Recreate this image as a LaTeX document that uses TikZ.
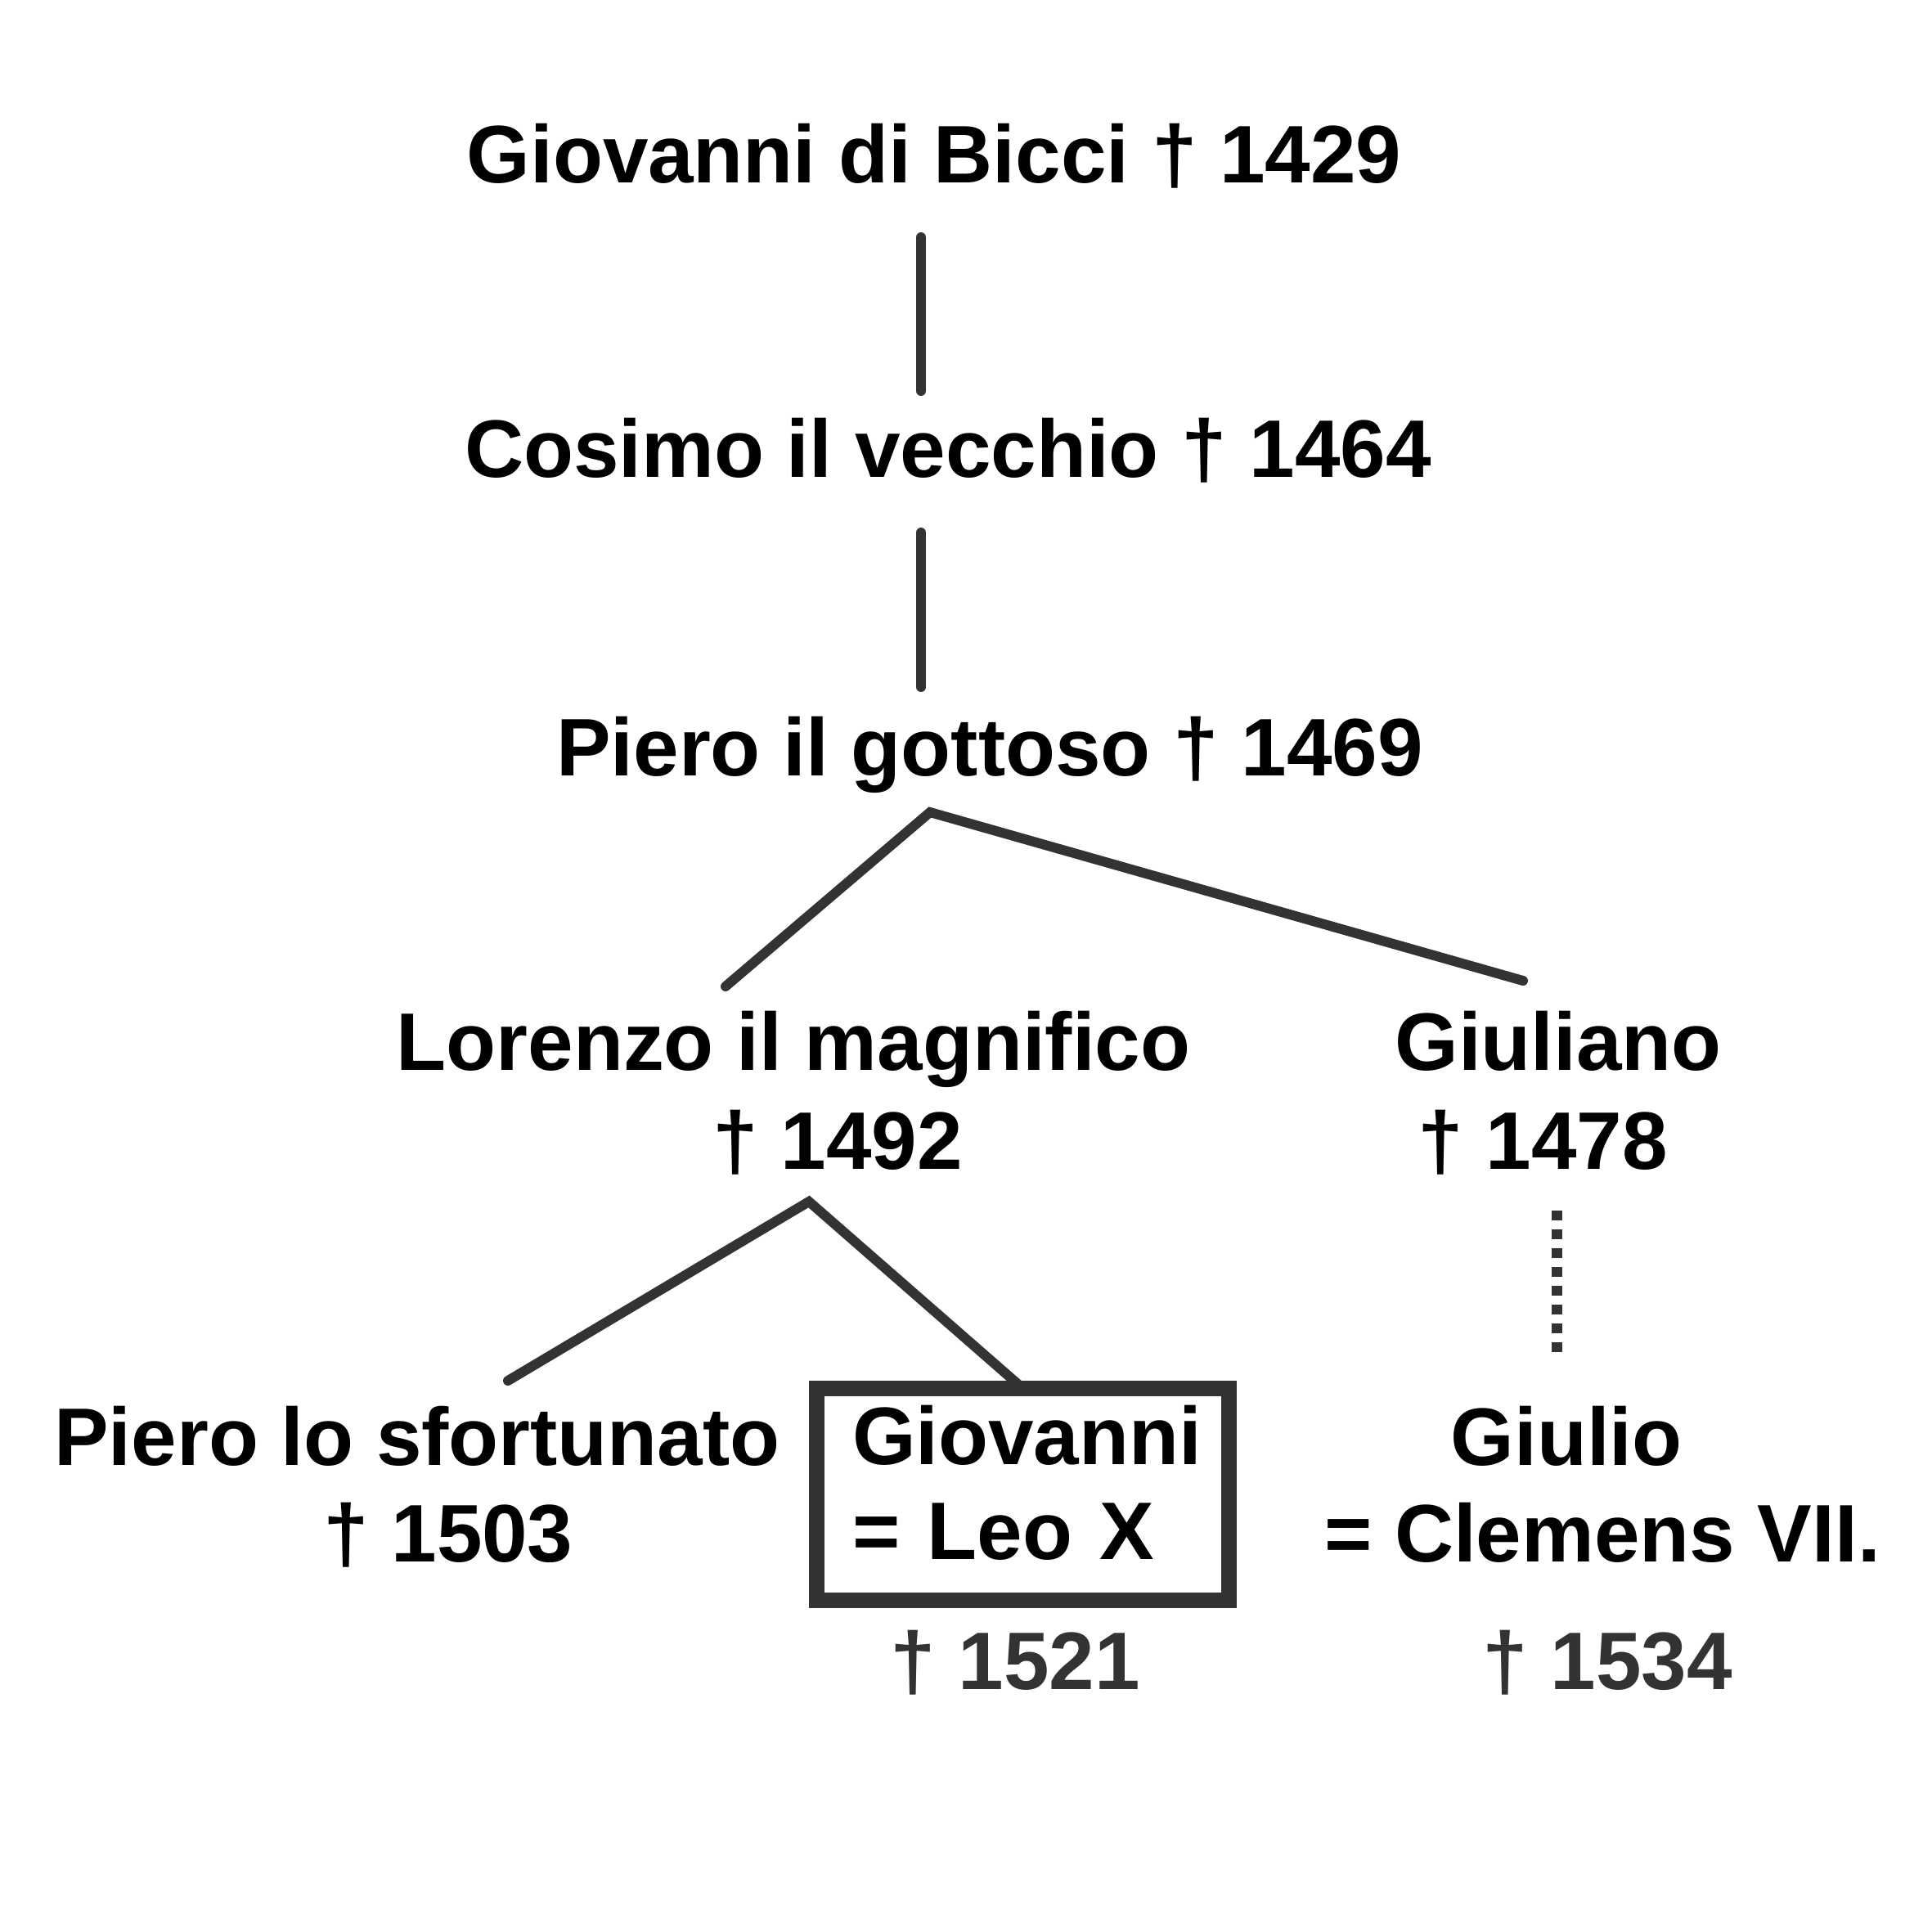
\documentclass[tikz,border=0pt]{standalone}
\usepackage{fontspec}
\setmainfont{Liberation Sans}
\usetikzlibrary{calc}
\definecolor{linegray}{HTML}{333333}
\newcommand{\famfont}{\fontsize{28.4}{33}\selectfont\bfseries}

\begin{document}
\begin{tikzpicture}[person/.style={anchor=base,inner sep=0pt,font=\famfont},
  dead/.style={person,text=linegray},
  link/.style={draw=linegray,line width=3.4pt,line cap=round},
  cousin/.style={draw=linegray,line width=3.7pt,dash pattern=on 0.12cm off 0.11cm},
  popebox/.style={draw=linegray,line width=5.4pt,outer sep=0pt,minimum width=5.04cm,
    minimum height=2.59cm,text width=4.16cm,text depth=1.44cm,inner xsep=0.44cm,inner ysep=0pt,
    align=left,font=\famfont}]
  \useasboundingbox (0,0) rectangle (23.62,-23.62);

  \draw (11.42,-2.24)  node[person](bicci)      {Giovanni di Bicci † 1429};
  \draw (11.59,-5.84)  node[person](cosimo)     {Cosimo il vecchio † 1464};
  \draw (12.10,-9.48)  node[person](piero)      {Piero il gottoso † 1469};

  \draw ( 9.70,-13.08) node[person](lorenzo)    {Lorenzo il magnifico};
  \draw (10.24,-14.29) node[person](lorenzo-d)  {† 1492};
  \draw (19.05,-13.08) node[person](giuliano)   {Giuliano};
  \draw (18.86,-14.29) node[person](giuliano-d) {† 1478};

  \draw ( 5.10,-17.91) node[person](pierolo)    {Piero lo sfortunato};
  \draw ( 5.48,-19.09) node[person](pierolo-d)  {† 1503};
  \draw (12.50,-18.265) node[popebox](leo)      {Giovanni\\= Leo X};
  \draw (12.41,-20.65) node[dead](leo-d)        {† 1521};
  \draw (19.15,-17.91) node[person](giulio)     {Giulio};
  \draw (19.59,-19.09) node[person](clemens)    {= Clemens VII.};
  \draw (19.65,-20.65) node[dead](giulio-d)     {† 1534};

  % line ends
  \coordinate (bicci-s)      at (11.26,-2.90);
  \coordinate (cosimo-n)     at (11.26,-4.78);
  \coordinate (cosimo-s)     at (11.26,-6.51);
  \coordinate (piero-n)      at (11.26,-8.40);
  \coordinate (piero-fork)   at (11.37,-9.93);
  \coordinate (lorenzo-n)    at ( 8.87,-12.06);
  \coordinate (giuliano-n)   at (18.62,-11.99);
  \coordinate (lorenzo-fork) at ( 9.89,-14.69);
  \coordinate (pierolo-n)    at ( 6.21,-16.88);
  \coordinate (giuliano-s)   at (19.03,-14.80);
  \coordinate (giulio-n)     at (19.03,-16.63);

  \draw[link] (bicci-s) -- (cosimo-n);
  \draw[link] (cosimo-s) -- (piero-n);
  \draw[link] (lorenzo-n) -- (piero-fork) -- (giuliano-n);
  \draw[link] (pierolo-n) -- (lorenzo-fork) -- (leo.north);
  \draw[cousin] (giuliano-s) -- (giulio-n);

\end{tikzpicture}
\end{document}
